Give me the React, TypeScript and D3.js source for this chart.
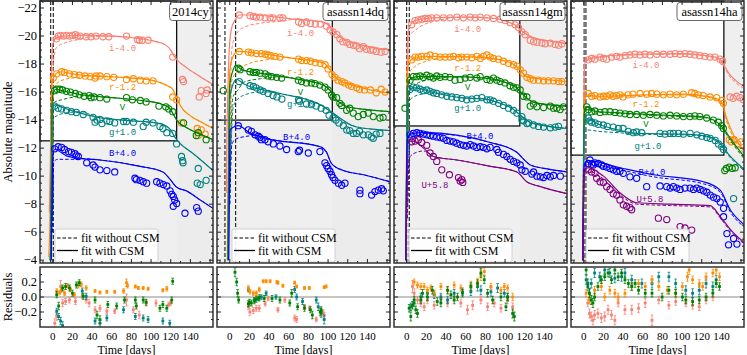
import React from 'react';
import * as d3 from 'd3';

type P = number[];

// ---------------- 2014cy ----------------
const cy_i_obs = [[3.9,-19.8],[5.5,-20.0],[8,-20.05],[11,-20.0],[14,-20.05],[17,-20.0],[20,-20.05],[23,-20.1],[25,-20.0],[28,-20.0],[34,-19.95],[39,-19.95],[44,-20.0],[51,-19.95],[57,-19.95],[75,-20.0],[86,-19.75],[88,-19.7],[91,-19.7],[97,-19.7],[122,-18.5],[132,-16.9],[133,-16.75],[149,-15.65],[151,-16.1],[156,-15.9],[157,-16.15]];
const cy_i_fit = [[-3.5,-7.4],[-2.5,-10.6],[-1.2,-18],[0,-19.4],[3,-19.85],[10,-20.0],[30,-20.05],[60,-20.0],[90,-19.8],[105,-19.6],[115,-19.35],[120,-19.0],[124,-18.5],[135,-17.8],[150,-17.1],[163,-16.55]];
const cy_i_nocsm = [[-0.3,-10],[0.5,-18.0],[2,-18.8],[4,-19.2],[12,-19.5],[26,-19.75],[40,-19.95]];
const cy_r_obs = [[0.5,-17.0],[4,-17.3],[9,-17.45],[12,-17.4],[17,-17.3],[22,-17.25],[27,-17.2],[33,-17.15],[38,-17.1],[43,-17.0],[44,-17.15],[48,-17.15],[55,-17.1],[62,-17.05],[75,-16.9],[82,-16.95],[89,-16.85],[95,-16.8],[102,-16.8],[122,-15.65],[126,-15.45],[131,-13.8],[147,-13.4],[148,-12.9],[155,-13.0],[151,-13.3]];
const cy_r_fit = [[-4,-4.2],[-3,-6.5],[-1.2,-16],[0,-16.9],[3,-17.3],[8,-17.45],[20,-17.3],[40,-17.15],[80,-17.0],[100,-16.85],[112,-16.6],[118,-16.4],[122,-16.2],[126,-15.6],[130,-15.0],[140,-14.3],[150,-13.9],[163,-13.4]];
const cy_r_nocsm = [[-0.3,-8],[0.5,-16.2],[4,-16.6],[12,-16.9],[25,-17.05],[40,-17.15]];
const cy_V_obs = [[2,-16.1],[4,-16.2],[7,-16.2],[10,-16.15],[14,-16.05],[18,-16.0],[23,-15.9],[27,-15.8],[32,-15.7],[37,-15.75],[39,-15.6],[42,-15.65],[48,-15.6],[55,-15.5],[75,-15.6],[81,-15.45],[89,-15.4],[95,-15.3],[108,-15.0],[115,-14.95],[118,-14.8],[122,-14.6],[133,-13.8],[146,-12.9],[148,-13.1],[156,-12.6]];
const cy_V_fit = [[-3,-4.0],[-2,-5.2],[-1,-14.5],[0,-15.8],[3,-16.2],[10,-16.1],[30,-15.8],[60,-15.6],[90,-15.4],[110,-15.15],[118,-14.9],[122,-14.5],[126,-14.0],[135,-13.5],[150,-13.0],[163,-12.6]];
const cy_V_nocsm = [[-0.3,-7],[0.5,-15.2],[4,-15.35],[9,-15.45],[22,-15.65],[35,-15.75]];
const cy_g_obs = [[2,-15.0],[5.5,-14.85],[9,-14.8],[14,-14.7],[19,-14.6],[24,-14.55],[31,-14.4],[41,-14.2],[45,-14.0],[48,-14.05],[55,-13.95],[43,-13.85],[50,-13.75],[58,-13.9],[63,-13.8],[72,-13.9],[75,-13.9],[82,-13.85],[92,-13.55],[95,-13.85],[102,-13.8],[109,-13.55],[112,-13.4],[116,-13.1],[122,-13.05],[126,-12.3],[131,-11.4],[132,-11.1],[132.5,-10.95],[148,-10.55],[147,-9.5],[150,-9.4],[156,-9.7]];
const cy_g_fit = [[-2,-4.0],[-1,-13.5],[0,-14.9],[3,-15.1],[10,-14.9],[25,-14.55],[50,-14.15],[80,-13.95],[105,-13.8],[115,-13.6],[120,-13.3],[124,-12.8],[130,-12.3],[143,-11.6],[163,-10.4]];
const cy_g_nocsm = [[-0.3,-6],[0.5,-14.1],[4,-14.3],[12.7,-14.5],[29,-14.6],[45,-14.2]];
const cy_B_obs = [[2,-11.95],[5.5,-12.1],[9,-12.05],[12,-11.9],[16,-11.75],[19,-11.7],[22.6,-11.6],[24,-11.45],[26,-11.4],[34.5,-10.95],[41,-10.8],[43,-10.65],[48,-10.45],[55,-10.4],[63,-10.3],[83.6,-9.85],[85,-9.75],[88.7,-9.7],[92,-9.6],[95.5,-9.5],[105.7,-9.6],[109,-9.5],[112.5,-9.4],[116,-9.3],[119.3,-8.95],[121,-8.7],[122.6,-8.55],[124,-8.3],[126,-8.05],[122.6,-7.85],[134.5,-7.35],[146.4,-7.75],[148,-7.5]];
const cy_B_fit = [[-1.5,-4],[-0.5,-10],[0.5,-11.7],[2,-11.9],[14,-11.45],[30,-11.25],[48,-11.15],[89,-10.7],[112,-10.3],[119,-9.8],[126,-9.2],[136,-8.95],[150,-8.3],[163,-7.7]];
const cy_B_nocsm = [[-0.3,-6],[1,-11.0],[5,-11.2],[22,-11.2],[30,-11.25]];

const cy_res_i = [[2,-0.35,0.06],[4,-0.26,0.05],[8,0.14,0.08],[10,-0.08,0.05],[13,-0.06,0.04],[17,-0.04,0.04],[23,-0.06,0.04],[30,0.01,0.03],[34,-0.04,0.04],[37,-0.08,0.05],[43,-0.17,0.04],[48,-0.15,0.04],[55,-0.19,0.03],[63,-0.19,0.03],[75,-0.04,0.08],[82,-0.17,0.04],[88,-0.24,0.05],[95,-0.08,0.04],[105,-0.08,0.04],[118,-0.10,0.03],[120,-0.08,0.03]];
const cy_res_r = [[4,0.08,0.03],[7,0.06,0.03],[9,0.1,0.03],[12,0.05,0.03],[15,0.15,0.03],[18,0.1,0.03],[22,0.03,0.03],[26,0.16,0.04],[29,0.17,0.03],[34,0.12,0.03],[43,0.08,0.02],[48,0.06,0.02],[55,0.07,0.02],[63,0.07,0.02],[72,0.08,0.03],[75,0.19,0.05],[76,0.15,0.03],[84,0.14,0.02],[87,0.12,0.02],[92,0.12,0.02],[97,0.11,0.02],[112,0.09,0.02],[116,0.11,0.03]];
const cy_res_V = [[4,0.03,0.04],[6,-0.12,0.05],[10,0.12,0.04],[13,0.14,0.04],[17,0.12,0.04],[20,0.05,0.04],[24,0.16,0.04],[27,0.19,0.04],[31,0.01,0.04],[43,-0.04,0.04],[45,-0.24,0.05],[48,-0.30,0.05],[56,-0.10,0.04],[65,-0.12,0.04],[73,-0.04,0.04],[84,-0.04,0.04],[85,-0.12,0.04],[92,-0.04,0.04],[95,-0.07,0.04],[109,-0.15,0.04],[112,-0.10,0.04],[116,-0.15,0.04],[121,-0.04,0.04],[122,0.21,0.04]];
const cy_res_g = [[4,-0.19,0.04],[6,-0.26,0.04],[8,-0.32,0.05],[10,-0.38,0.05],[30,0.08,0.04],[34,0.01,0.04],[43,-0.32,0.04],[48,-0.35,0.04],[55,-0.28,0.04],[72,-0.17,0.04],[84,-0.26,0.04],[92,-0.28,0.04],[97,-0.30,0.04],[112,-0.32,0.04],[119,-0.35,0.04]];

// ---------------- asassn14dq ----------------
const dq_i_obs = [[9.7,-21.5],[20.5,-21.45],[24,-21.4],[27,-21.35],[31,-21.35],[36,-21.3],[41,-21.3],[44,-21.3],[51,-21.3],[54,-21.3],[70,-21.0],[73,-20.9],[78,-21.0],[82,-20.9],[87,-20.85],[92,-20.85],[98.5,-20.7],[102,-20.45],[105,-20.3],[109,-20.1],[112,-19.8],[115,-19.6],[119,-19.55],[122,-19.4],[126,-19.35],[129,-19.3],[132,-19.1],[136,-19.25],[139,-19.05],[143,-19.0],[146,-19.0],[149,-18.9],[154,-18.85],[158,-18.9]];
const dq_i_fit = [[-3.6,-8.8],[-3.3,-11],[0,-19.6],[2,-20.6],[5,-21.1],[10,-21.5],[24,-21.5],[65,-21.2],[95,-21.0],[100,-20.8],[105,-20.4],[115,-19.8],[132,-19.4],[163,-19.0]];
const dq_i_nocsm = [[0,-12],[2,-19.0],[5,-19.9],[13.5,-20.6],[30,-20.9],[57,-21.1],[65,-21.2]];
const dq_r_obs = [[9.7,-18.9],[18.9,-18.85],[22,-18.8],[27,-18.75],[32,-18.75],[36,-18.7],[39,-18.65],[42,-18.6],[46,-18.55],[51,-18.5],[70,-18.35],[73,-18.25],[78,-18.25],[82,-18.2],[87,-18.1],[92,-18.05],[97,-17.95],[100,-17.65],[104,-17.25],[107,-17.05],[110,-16.85],[114,-16.75],[117,-16.65],[121,-16.5],[124,-16.4],[129,-16.3],[132,-16.2],[137,-16.15],[143,-16.15],[149,-15.95],[154,-16.2],[158,-16.0]];
const dq_r_fit = [[-2.5,-4],[0,-17.5],[3,-18.5],[8,-18.9],[25,-18.8],[65,-18.4],[95,-18.1],[102,-17.6],[110,-16.9],[125,-16.5],[140,-16.2],[163,-15.9]];
const dq_r_nocsm = [[0,-10],[2,-16.8],[6.6,-17.4],[20,-18.05],[37,-18.3],[60,-18.45]];
const dq_V_obs = [[-6.6,-16.1],[8.9,-17.7],[10.6,-17.6],[20.5,-17.45],[24,-17.4],[27,-17.4],[31,-17.35],[36,-17.3],[39,-17.15],[42.6,-17.1],[47.7,-17.05],[52.8,-17.0],[69.7,-16.85],[73,-16.75],[78,-16.65],[83,-16.65],[86.7,-16.6],[91.7,-16.5],[96.8,-16.35],[100,-16.15],[103.5,-15.8],[105,-15.65],[108.7,-15.6],[112,-15.2],[113.8,-15.05],[118.9,-14.7],[122,-14.85],[125.6,-14.5],[130.7,-14.25],[135.8,-14.4],[140.9,-14.5],[146,-14.25],[152.8,-14.15],[156,-14.2]];
const dq_V_fit = [[-2,-4],[0,-16.5],[3,-17.5],[6,-17.9],[12,-17.6],[35,-17.3],[70,-16.9],[95,-16.5],[101,-16.2],[108,-15.5],[120,-14.95],[140,-14.75],[163,-14.6]];
const dq_V_nocsm = [[0,-9],[3,-15.6],[8.9,-16.2],[14,-16.7],[31,-16.95],[55,-17.1]];
const dq_g_obs = [[9.7,-16.75],[20.5,-16.45],[24,-16.4],[27,-16.3],[31,-16.15],[34,-16.05],[39,-15.9],[44,-15.75],[48,-15.65],[53,-15.5],[70,-15.45],[71,-15.35],[78,-15.15],[83,-15.1],[88,-15.0],[93,-14.85],[98,-14.7],[101,-14.35],[105,-14.15],[108,-14.0],[111,-13.8],[115.5,-13.6],[119,-13.3],[122,-13.25],[125.7,-13.05],[129,-13.05],[132,-13.2],[135.8,-12.95],[140.9,-12.95],[144,-12.8],[146,-12.7],[149,-13.0],[152.8,-13.05]];
const dq_g_fit = [[-1.5,-4],[0,-15.5],[3,-16.5],[7,-16.9],[14,-16.6],[48,-15.95],[92,-15.1],[105,-14.5],[115,-14.0],[125,-13.6],[145,-13.35],[163,-13.25]];
const dq_g_nocsm = [[0,-8],[3,-14.7],[5,-15.2],[15,-15.8],[30,-16.0],[45,-16.0]];
const dq_B_obs = [[8.7,-13.6],[18.9,-13.3],[22,-13.2],[25.7,-12.95],[29,-12.85],[30.7,-12.75],[32,-12.6],[35.8,-12.6],[39,-12.45],[44.3,-12.3],[51,-12.15],[57.8,-11.9],[69.7,-11.75],[71,-11.85],[79.9,-11.65],[91.7,-11.75],[96.8,-10.95],[98.5,-10.75],[100,-10.55],[101.9,-10.35],[103.5,-10.1],[105,-9.9],[107,-9.7],[110.4,-9.5],[113.8,-9.35],[117.2,-9.5],[132.4,-9.0],[132.4,-8.75],[144.3,-8.65],[147.7,-8.9],[151.1,-9.0],[154.5,-9.1],[156.2,-8.95]];
const dq_B_fit = [[-1,-4],[0.2,-13.3],[4,-13.5],[8.7,-13.6],[20,-13.1],[37,-12.7],[92,-12.1],[98.5,-11.7],[103.5,-10.9],[115.5,-10.4],[136,-10.1],[163,-9.6]];
const dq_B_nocsm = [[0,-8],[2,-12.2],[5,-12.6],[13.5,-12.8],[27,-12.9],[37,-12.7]];

const dq_res_i = [[18.9,-0.13,0.04],[20.5,-0.2,0.05],[24,-0.18,0.04],[27,-0.15,0.04],[30,-0.15,0.04],[36,-0.09,0.03],[39,-0.02,0.03],[49,-0.17,0.03],[56,-0.04,0.03],[66,-0.28,0.04],[68,-0.3,0.04],[76,-0.13,0.03],[81,-0.15,0.03],[88,-0.3,0.03],[95,-0.21,0.04],[96,-0.25,0.04]];
const dq_res_r = [[18.9,0.12,0.03],[20.5,0.07,0.03],[24,0.05,0.03],[27,0.05,0.03],[30,0.1,0.03],[34,0.21,0.02],[37,0.21,0.02],[41,0.21,0.02],[48,0.2,0.02],[49,0.19,0.02],[54,0.15,0.02],[66,0.19,0.02],[68,0.14,0.02],[76,0.12,0.02],[81,0.12,0.02],[96,0.13,0.02],[98,0.14,0.02]];
const dq_res_V = [[5.3,0.33,0.06],[7,0.2,0.05],[8,0.05,0.05],[9,-0.04,0.04],[18.9,-0.09,0.04],[20,-0.07,0.04],[22,-0.08,0.04],[25,-0.05,0.04],[27,-0.03,0.04],[30,-0.01,0.04],[35,-0.02,0.04],[43,-0.02,0.04],[51,-0.04,0.04],[61,-0.08,0.04],[63,0.05,0.05],[69,-0.13,0.04],[76,-0.15,0.04],[82,-0.17,0.04],[84,-0.24,0.05],[92,-0.2,0.05],[93,-0.18,0.05]];
const dq_res_g = [[18.9,0.1,0.03],[25,-0.04,0.03],[29,-0.02,0.03],[32,0.0,0.03],[37,0.05,0.03],[47,0.0,0.03],[66,0.1,0.04],[68,0.0,0.04],[74,-0.06,0.04],[88,-0.04,0.04],[90,-0.13,0.05],[93,-0.21,0.06],[96,-0.3,0.06]];

// ---------------- asassn14gm ----------------
const gm_i_obs = [[5,-20.8],[8.4,-21.1],[11.8,-21.15],[15.2,-21.2],[18.6,-21.25],[22,-21.25],[25.4,-21.3],[30.5,-21.3],[37.3,-21.3],[44,-21.3],[50.9,-21.35],[57.7,-21.3],[64.5,-21.35],[69.6,-21.3],[74.7,-21.35],[81.5,-21.3],[88.2,-21.25],[95,-21.2],[100.1,-21.1],[105.2,-20.95],[110.3,-20.8],[113.7,-20.6],[117.1,-20.3],[120.5,-20.1],[125.6,-19.7],[129,-19.6],[132.4,-19.55],[137.5,-19.5],[140.9,-19.45],[146,-19.5],[151,-19.4],[154.4,-19.35],[157.8,-19.45]];
const gm_i_fit = [[-1,-4],[0.5,-19.5],[2,-20.5],[8,-21.1],[25,-21.3],[60,-21.35],[90,-21.25],[103,-21.0],[110,-20.8],[118,-20.3],[128,-19.9],[145,-19.65],[163,-19.45]];
const gm_i_nocsm = [[0.5,-12],[1.7,-19.9],[8.4,-20.4],[18.6,-20.85],[32,-21.1],[45,-21.3]];
const gm_r_obs = [[5,-18.3],[8.4,-18.5],[11.8,-18.5],[15.2,-18.55],[20.3,-18.55],[23.7,-18.65],[28.8,-18.55],[33.9,-18.5],[39,-18.5],[44,-18.5],[47.5,-18.55],[52.6,-18.45],[56,-18.5],[61,-18.5],[66.2,-18.45],[71.3,-18.55],[74.7,-18.4],[78,-18.55],[81.5,-18.65],[84.8,-18.5],[88.2,-18.4],[93.3,-18.35],[98.4,-18.2],[103.5,-18.05],[108.6,-17.95],[112,-17.85],[115.4,-17.6],[118.8,-17.35],[122.2,-17.05],[125.6,-16.95],[129,-16.85],[134,-16.85],[139.2,-16.8],[144,-16.8],[149.3,-16.8],[154.4,-16.75],[157.8,-16.75]];
const gm_r_fit = [[-1,-4],[0.5,-17.5],[3,-18.2],[10,-18.5],[30,-18.55],[70,-18.5],[95,-18.3],[108,-18.0],[115,-17.6],[122,-17.1],[135,-16.95],[163,-16.75]];
const gm_r_nocsm = [[0.5,-10],[2,-17.3],[8,-17.8],[20,-18.2],[35,-18.45],[50,-18.53]];
const gm_V_obs = [[-1.8,-14.85],[3.4,-16.85],[6.7,-17.1],[10,-17.1],[13.5,-17.15],[16.9,-17.05],[20.3,-17.2],[23.7,-17.1],[27,-17.0],[30.5,-17.15],[33.9,-17.05],[39,-17.1],[44,-17.05],[49,-16.85],[54.3,-16.9],[59.4,-17.0],[64.5,-17.05],[71.3,-17.0],[74.7,-17.1],[81.5,-16.9],[84.8,-16.85],[88.2,-17.0],[91.6,-16.85],[95,-16.75],[100,-16.65],[105,-16.45],[108.6,-16.35],[112,-16.3],[115.4,-16.15],[118.8,-15.7],[122.2,-15.65],[125.6,-15.0],[129,-15.15],[132.4,-14.95],[139.2,-14.9],[146,-15.0],[149.3,-14.85],[152.7,-14.85],[156,-14.75],[159.5,-14.95]];
const gm_V_fit = [[-1,-4],[0.5,-16.2],[3,-16.9],[10,-17.1],[40,-17.1],[80,-17.0],[100,-16.7],[112,-16.3],[120,-15.7],[130,-15.25],[163,-15.0]];
const gm_V_nocsm = [[0.5,-9],[2,-15.9],[8,-16.5],[20,-16.85],[35,-17.0],[45,-17.1]];
const gm_g_obs = [[3.4,-16.2],[6.7,-16.35],[10,-16.3],[13.5,-16.2],[16.9,-16.1],[20.3,-16.15],[23.7,-16.05],[27,-15.95],[30.5,-15.9],[35.6,-15.8],[40.7,-15.7],[45.8,-15.65],[50.9,-15.6],[56,-15.55],[61,-15.45],[66.2,-15.5],[71.3,-15.55],[76.4,-15.6],[81.5,-15.45],[84.8,-15.45],[88.2,-15.35],[93.3,-15.2],[98.4,-15.05],[103.5,-14.85],[108.6,-14.7],[112,-14.5],[117.1,-14.25],[118.8,-13.95],[122.2,-13.75],[117.1,-14.0],[124,-13.8],[129,-13.65],[134,-13.55],[139.2,-13.5],[146,-13.45],[151,-13.5],[154.4,-13.55]];
const gm_g_fit = [[-1,-4],[0.5,-15.5],[3,-16.2],[8,-16.3],[28,-15.95],[55,-15.6],[80,-15.5],[95,-15.2],[108,-14.8],[118,-14.2],[125,-13.85],[140,-13.6],[163,-13.4]];
const gm_g_nocsm = [[0.5,-8],[2,-15.3],[8,-15.7],[20,-15.9],[30,-15.93]];
const gm_B_obs = [[3.4,-12.95],[6.7,-13.05],[10.2,-13.1],[13.5,-13.05],[16.9,-13.0],[20.3,-12.95],[23.7,-12.9],[27,-12.85],[30.5,-12.8],[33.9,-12.75],[37.3,-12.7],[40.7,-12.55],[44,-12.5],[47.5,-12.45],[50.9,-12.35],[54.3,-12.25],[57.7,-12.2],[61,-12.15],[64.5,-12.25],[67.9,-12.15],[71.3,-12.05],[74.7,-12.1],[78,-12.05],[81.5,-11.95],[84.8,-12.05],[91.6,-11.9],[93.3,-11.7],[98.4,-11.55],[101.8,-11.4],[105.2,-11.2],[108.6,-11.05],[112,-10.95],[115.4,-10.8],[117.1,-10.45],[120.5,-10.35],[127.3,-10.15],[129,-10.3],[132.4,-10.0],[135.8,-9.95],[139.2,-9.9],[142.6,-10.05],[146,-9.95],[149.3,-10.05],[156.2,-10.0]];
const gm_B_fit = [[-1,-4],[0.5,-12.5],[3.4,-13.0],[17,-13.1],[85,-12.4],[112,-11.7],[119,-11.2],[125.6,-10.8],[140,-10.55],[163,-10.3]];
const gm_B_nocsm = [[0.5,-7],[3.4,-12.6],[10,-12.8],[20,-13.05]];
const gm_U_obs = [[5,-12.45],[8.4,-12.5],[11.8,-12.6],[15.2,-12.4],[20.3,-12.2],[23.7,-11.65],[27,-11.4],[30.5,-11.05],[35.6,-10.45],[43.4,-10.1],[52.6,-9.9],[54.3,-9.65],[56,-9.75],[57,-9.55]];
const gm_U_fit = [[-1,-4],[1.7,-12.5],[6.7,-12.5],[17,-12.0],[27,-11.4],[51,-11.15],[85,-10.7],[112,-10.3],[122,-9.6],[136,-9.25],[163,-8.75]];
const gm_U_nocsm = [[0.5,-7],[3.4,-11.4],[10,-11.7],[17,-11.8],[25,-11.5]];

const gm_res_i = [[5.8,0.14,0.08],[7.5,0.05,0.06],[10.9,-0.04,0.05],[14.3,-0.08,0.05],[17.7,-0.13,0.05],[21,-0.04,0.05],[27.9,-0.11,0.05],[34.7,-0.02,0.05],[41.5,-0.08,0.05],[48.2,0.0,0.05],[55,-0.08,0.05],[61.8,-0.17,0.06],[67,-0.11,0.06],[75.4,-0.04,0.05],[82.2,-0.13,0.05],[89,-0.08,0.05],[95.8,-0.15,0.05],[102.6,-0.04,0.05],[107.7,-0.13,0.05]];
const gm_res_r = [[7.5,0.2,0.04],[10.9,0.16,0.04],[14.3,0.14,0.04],[17.7,0.14,0.04],[21,0.09,0.04],[24.5,0.12,0.04],[27.9,0.05,0.04],[34.7,0.14,0.04],[41.5,0.09,0.04],[48.2,0.16,0.04],[55,0.12,0.04],[65.2,0.16,0.05],[72,0.2,0.05],[75.4,0.29,0.07],[78.8,0.34,0.05],[85.6,0.14,0.04],[95.8,0.09,0.04],[99.2,0.14,0.04],[102.6,0.12,0.04],[107.7,0.0,0.05]];
const gm_res_V = [[2.4,-0.15,0.05],[4.1,-0.26,0.06],[5.8,-0.11,0.05],[7.5,-0.04,0.05],[9.2,-0.17,0.05],[10.9,-0.22,0.05],[14.3,-0.04,0.05],[16,0.05,0.05],[21,0.0,0.05],[26,0.09,0.05],[31,-0.06,0.05],[34.7,-0.08,0.05],[41.5,0.09,0.05],[44.9,0.03,0.05],[48.2,-0.04,0.05],[51.6,0.0,0.05],[56.7,0.05,0.05],[65.2,0.14,0.05],[72,0.18,0.05],[75.4,0.32,0.06],[78.8,0.23,0.05],[82.2,0.05,0.05],[87.3,-0.04,0.05],[95.8,0.0,0.05],[100.9,-0.13,0.05],[102.6,0.0,0.05],[107.7,-0.22,0.06],[109.4,-0.26,0.06]];
const gm_res_g = [[4.1,-0.13,0.05],[7.5,-0.08,0.05],[14.3,0.0,0.05],[21,0.05,0.05],[27.9,0.03,0.05],[34.7,0.0,0.05],[41.5,-0.04,0.05],[48.2,0.05,0.05],[56.7,0.07,0.05],[65.2,0.07,0.05],[72,0.14,0.06],[75.4,0.09,0.06],[85.6,0.07,0.06],[92.4,0.12,0.06],[99.2,0.05,0.05],[102.6,0.0,0.05]];

// ---------------- asassn14ha ----------------
const ha_i_obs = [[4.6,-18.3],[8,-18.4],[11.4,-18.35],[16.5,-18.5],[19.9,-18.4],[23.3,-18.35],[28.3,-18.5],[33.4,-18.55],[36.8,-18.5],[42,-18.6],[47,-18.65],[52,-18.7],[57.2,-18.65],[62.3,-18.7],[67.4,-18.65],[74.2,-18.7],[81,-18.7],[87.8,-18.7],[92.8,-18.75],[98,-18.7],[103,-18.75],[108,-18.7],[113,-18.65],[118,-18.6],[123.3,-18.55],[128.4,-18.5],[133.5,-18.5],[138.6,-18.35],[141.3,-18.2],[148.8,-15.65],[152,-15.55],[155.6,-15.7],[159,-15.6],[162.4,-15.45]];
const ha_i_fit = [[-1,-4],[0.5,-17.5],[2,-18.3],[15,-18.5],[50,-18.7],[100,-18.75],[125,-18.6],[138,-18.4],[142,-18.0],[148,-17.3],[155,-16.8],[163,-16.4]];
const ha_i_nocsm = [[-1,-4],[0.5,-17.3],[2,-18.2],[15,-18.45],[50,-18.65],[100,-18.7],[125,-18.55],[138,-18.3],[142,-17.9],[148,-17.15],[155,-16.65],[163,-16.25]];
const ha_r_obs = [[4.6,-15.9],[8,-15.7],[11.4,-15.75],[16.5,-15.65],[19.9,-15.7],[23.3,-15.7],[26.7,-15.8],[30,-15.7],[33.4,-15.75],[36.8,-15.8],[40,-15.65],[45,-15.8],[50,-15.85],[57.2,-15.9],[64,-15.85],[69,-15.9],[74.2,-15.85],[81,-15.8],[87.8,-15.85],[94.5,-15.8],[101.3,-15.85],[109.8,-15.95],[113,-15.9],[116.5,-15.8],[121.5,-15.75],[128.4,-15.65],[135.2,-15.6],[140.3,-15.4],[142,-15.2],[148,-12.6],[150,-12.45],[153,-12.6],[156.5,-12.3],[160,-12.45]];
const ha_r_fit = [[-1,-4],[0.5,-15.3],[3,-15.8],[15,-15.7],[60,-15.8],[100,-15.85],[125,-15.7],[137,-15.45],[141,-15.2],[145,-14.2],[150,-13.3],[155,-12.6],[163,-11.8]];
const ha_r_nocsm = [[-1,-4],[0.5,-15.1],[3,-15.7],[15,-15.65],[60,-15.75],[100,-15.8],[125,-15.65],[137,-15.35],[141,-15.05],[145,-14.0],[150,-13.1],[155,-12.4],[163,-11.6]];
const ha_V_obs = [[3,-14.95],[4.6,-14.75],[8,-14.6],[11.4,-14.65],[16.5,-14.55],[21.6,-14.6],[26.7,-14.6],[31.8,-14.55],[36.8,-14.5],[42,-14.45],[47,-14.4],[53.8,-14.4],[60.6,-14.35],[67.4,-14.4],[74.2,-14.35],[81,-14.3],[87.8,-14.35],[94.5,-14.3],[101.3,-14.25],[108,-14.25],[113,-14.3],[118,-14.25],[125,-14.15],[131.8,-14.0],[136.9,-13.85],[140.3,-13.6],[142,-13.4],[143.4,-10.4],[145,-10.55],[148,-10.65],[151,-10.55],[154,-10.6]];
const ha_V_fit = [[-1,-4],[0.5,-14.5],[3,-14.95],[10,-14.65],[40,-14.5],[80,-14.35],[120,-14.25],[132,-14.0],[138,-13.7],[142,-13.4],[150,-12.6],[163,-11.4]];
const ha_V_nocsm = [[-1,-4],[0.5,-14.3],[3,-14.8],[10,-14.6],[40,-14.45],[80,-14.3],[120,-14.2],[132,-13.95],[138,-13.6],[142,-13.3],[150,-12.45],[163,-11.25]];
const ha_g_obs = [[4.6,-14.15],[6.3,-13.95],[8,-13.85],[11.4,-13.8],[14.8,-13.7],[19.9,-13.65],[24,-13.55],[30,-13.5],[35.2,-13.4],[40,-13.4],[45.3,-13.2],[50.4,-13.1],[53.8,-13.15],[58.9,-13.1],[77.6,-13.05],[82.7,-13.0],[87.8,-13.05],[91.2,-13.05],[96.2,-13.05],[101.3,-13.0],[108.2,-13.05],[115,-12.95],[120.1,-12.85],[125.2,-12.75],[128.6,-12.7],[133.7,-12.55],[137,-12.3],[140.3,-12.1],[142.2,-11.9],[152.4,-8.4]];
const ha_g_fit = [[-1,-4],[0.5,-13.6],[3,-14.1],[15,-13.7],[35,-13.3],[55,-13.05],[100,-13.0],[125,-12.85],[138,-12.4],[148,-11.5],[163,-10.5]];
const ha_g_nocsm = [[-1,-4],[0.5,-13.0],[3,-13.3],[15,-13.2],[35,-13.1],[55,-13.0],[100,-12.95],[125,-12.8],[138,-12.3],[148,-11.4],[163,-10.4]];
const ha_B_obs = [[4.6,-10.9],[6.3,-11.15],[8,-10.85],[9.7,-10.8],[11.4,-10.95],[14.8,-10.9],[18.2,-10.8],[19.9,-10.7],[23.3,-10.65],[26.7,-10.55],[30,-10.45],[33.4,-10.35],[36.8,-10.35],[40.2,-10.2],[47,-9.95],[53.8,-9.85],[64,-9.25],[77.6,-9.3],[84.4,-9.25],[87.8,-9.15],[91.2,-9.25],[94.6,-9.15],[98,-9.05],[103,-9.15],[108.2,-9.15],[111.6,-9.05],[115,-9.15],[118.4,-9.05],[121.8,-8.95],[125.2,-8.85],[128.6,-8.65],[132,-8.5],[135.4,-8.4],[138.8,-8.15],[142.2,-7.7],[142.2,-7.1],[145.6,-5.9],[152.4,-5.55],[147.3,-5.1],[155.8,-5.15]];
const ha_B_fit = [[-1,-4],[0.5,-10.8],[4.6,-11.1],[36.8,-10.6],[71,-10.1],[121.8,-9.6],[138.8,-9.0],[149,-7.6],[166,-6.4]];
const ha_B_nocsm = [[-1,-4],[0.5,-10.6],[4.6,-10.85],[36.8,-10.45],[71,-9.95],[121.8,-9.45],[138.8,-8.85],[149,-7.45],[166,-6.25]];
const ha_U_obs = [[4.6,-10.45],[8,-10.3],[11.4,-10.2],[13.1,-9.85],[16.5,-9.6],[19.9,-9.55],[23.3,-9.25],[26.7,-9.05],[30,-8.75],[33.5,-8.65],[36.8,-8.3],[40.2,-7.95],[43.6,-7.85],[47,-7.75],[48.7,-7.6],[75.9,-7.0],[84.4,-6.9],[98,-6.4],[103,-6.3],[109.8,-6.15]];
const ha_U_fit = [[-1,-4],[0.5,-10.3],[4.6,-10.6],[20,-10.0],[37,-8.8],[54,-8.1],[88,-8.0],[128.6,-7.9],[139,-7.1],[149,-6.2],[166,-5.1]];
const ha_U_nocsm = [[-1,-4],[0.5,-10.0],[4.6,-10.35],[20,-9.8],[37,-8.65],[54,-8.0],[88,-7.9],[128.6,-7.8],[139,-7.0],[149,-6.1],[166,-5.0]];

const ha_res_i = [[4.1,-0.08,0.05],[5.8,-0.22,0.06],[7.6,-0.26,0.06],[9.3,-0.31,0.06],[11,-0.24,0.06],[14.4,-0.22,0.06],[17.9,-0.28,0.06],[21.3,-0.26,0.06],[24.7,-0.17,0.06],[28.2,-0.24,0.06],[31.6,-0.31,0.06],[35,-0.08,0.05],[41.9,-0.17,0.06],[48.8,-0.17,0.06],[55.7,-0.15,0.06],[62.5,-0.08,0.06],[69.4,-0.31,0.07],[76.3,-0.04,0.05],[86.6,-0.11,0.05],[93.5,-0.06,0.05],[103.8,-0.08,0.05],[110.7,-0.11,0.05],[117.5,-0.13,0.05],[124.4,-0.04,0.05],[131.3,0.0,0.05]];
const ha_res_r = [[2.4,0.05,0.05],[5.8,-0.04,0.05],[11,0.09,0.05],[17.9,0.14,0.05],[21.3,0.0,0.05],[26.5,0.09,0.05],[31.6,0.05,0.05],[35,0.0,0.05],[41.9,0.05,0.05],[48.8,0.14,0.05],[55.7,0.18,0.05],[62.5,0.14,0.05],[69.4,0.23,0.05],[76.3,0.14,0.05],[84.9,0.09,0.05],[93.5,0.05,0.05],[100.3,0.14,0.05],[105.5,0.27,0.06],[107.2,0.36,0.06],[110.7,0.23,0.05],[117.5,0.18,0.05],[121,0.14,0.05],[124.4,0.27,0.05],[131.3,0.32,0.05],[134.7,0.36,0.05],[138.1,0.27,0.05]];
const ha_res_V = [[2.4,0.36,0.06],[4.1,0.18,0.06],[5.8,0.05,0.06],[7.6,-0.04,0.06],[9.3,-0.08,0.06],[11,0.0,0.05],[14.4,0.14,0.05],[17.9,0.23,0.05],[21.3,0.27,0.05],[24.7,0.32,0.05],[28.2,0.23,0.05],[31.6,0.36,0.05],[35,0.27,0.05],[38.5,0.32,0.05],[41.9,0.23,0.05],[45.4,0.18,0.05],[48.8,0.14,0.05],[52.2,0.18,0.05],[55.7,0.09,0.05],[62.5,0.05,0.05],[69.4,0.05,0.05],[79.7,0.0,0.05],[86.6,0.09,0.05],[93.5,0.05,0.05],[100.3,0.0,0.05],[103.8,-0.04,0.05],[110.7,-0.06,0.05],[117.5,-0.04,0.05],[124.4,0.0,0.05],[131.3,0.05,0.05],[134.7,0.18,0.05],[138.1,0.14,0.05]];
const ha_res_g = [[2.4,0.23,0.06],[4.1,0.14,0.06],[5.8,0.05,0.06],[7.6,0.18,0.06],[11,0.32,0.06],[16.2,0.27,0.06],[21.3,0.36,0.06],[26.5,0.32,0.06],[31.6,0.25,0.06],[38.5,0.27,0.06],[41.9,0.32,0.06],[48.8,0.23,0.06],[59.1,0.18,0.06],[69.4,0.18,0.06],[76.3,0.27,0.06],[86.6,0.27,0.06],[93.5,0.18,0.06],[103.8,0.09,0.06],[110.7,0.05,0.06],[117.5,0.09,0.06],[124.4,0.18,0.06],[131.3,0.14,0.06],[134.7,0.23,0.06]];

// ---------------- labels & axis values ----------------
const panelNames = ['2014cy', 'asassn14dq', 'asassn14gm', 'asassn14ha'];
const bandLabels = { i: 'i-4.0', r: 'r-1.2', V: 'V', g: 'g+1.0', B: 'B+4.0', U: 'U+5.8' };
const magTicks = [-22, -20, -18, -16, -14, -12, -10, -8, -6, -4];
const resTicks = [0.2, 0.0, -0.2];
const timeTicks = [0, 20, 40, 60, 80, 100, 120, 140];

const COL: Record<string, string> = { i: '#fa8072', r: '#ff8c00', V: '#008000', g: '#008080', B: '#0000ff', U: '#800080' };

const PANEL_W = 173;
const PANEL_LEFTS = [40, 217, 394, 571];
const TOP_RANGE = [1, 263];
const RES_RANGE = [267, 327];
const XDOM = [-13, 163];
const MAGDOM = [-22.5, -3.8];
const RESDOM = [0.4, -0.4];
const FS = 12.5;
const FS_X = 11;
const FS_LEG = 12;

type Band = { key: string; obs: P[]; fit: P[]; nocsm: P[]; lab: number[] };
type Panel = { name: string; bands: Band[]; res: { key: string; d: P[] }[]; boxEnd: number; boxMag: number; epochs: number[]; epochGray?: boolean; fullNocsm?: boolean };

const panels: Panel[] = [
  {
    name: panelNames[0], boxEnd: 126, boxMag: -12.52, epochs: [-2.1, 0.5],
    bands: [
      { key: 'i', obs: cy_i_obs, fit: cy_i_fit, nocsm: cy_i_nocsm, lab: [71, -19.15] },
      { key: 'r', obs: cy_r_obs, fit: cy_r_fit, nocsm: cy_r_nocsm, lab: [71, -16.36] },
      { key: 'V', obs: cy_V_obs, fit: cy_V_fit, nocsm: cy_V_nocsm, lab: [71, -14.93] },
      { key: 'g', obs: cy_g_obs, fit: cy_g_fit, nocsm: cy_g_nocsm, lab: [71, -13.15] },
      { key: 'B', obs: cy_B_obs, fit: cy_B_fit, nocsm: cy_B_nocsm, lab: [71, -11.65] },
    ],
    res: [{ key: 'i', d: cy_res_i }, { key: 'g', d: cy_res_g }, { key: 'r', d: cy_res_r }, { key: 'V', d: cy_res_V }],
  },
  {
    name: panelNames[1], boxEnd: 104.3, boxMag: -14.0, epochs: [-4.9, 6],
    bands: [
      { key: 'i', obs: dq_i_obs, fit: dq_i_fit, nocsm: dq_i_nocsm, lab: [72, -20.22] },
      { key: 'r', obs: dq_r_obs, fit: dq_r_fit, nocsm: dq_r_nocsm, lab: [72, -17.43] },
      { key: 'V', obs: dq_V_obs, fit: dq_V_fit, nocsm: dq_V_nocsm, lab: [72, -16.0] },
      { key: 'g', obs: dq_g_obs, fit: dq_g_fit, nocsm: dq_g_nocsm, lab: [72, -15.15] },
      { key: 'B', obs: dq_B_obs, fit: dq_B_fit, nocsm: dq_B_nocsm, lab: [68, -12.79] },
    ],
    res: [{ key: 'i', d: dq_res_i }, { key: 'g', d: dq_res_g }, { key: 'r', d: dq_res_r }, { key: 'V', d: dq_res_V }],
  },
  {
    name: panelNames[2], boxEnd: 115, boxMag: -13.58, epochs: [-0.1, 2.5],
    bands: [
      { key: 'i', obs: gm_i_obs, fit: gm_i_fit, nocsm: gm_i_nocsm, lab: [62, -20.5] },
      { key: 'r', obs: gm_r_obs, fit: gm_r_fit, nocsm: gm_r_nocsm, lab: [62, -17.72] },
      { key: 'V', obs: gm_V_obs, fit: gm_V_fit, nocsm: gm_V_nocsm, lab: [62, -16.36] },
      { key: 'g', obs: gm_g_obs, fit: gm_g_fit, nocsm: gm_g_nocsm, lab: [62, -14.86] },
      { key: 'B', obs: gm_B_obs, fit: gm_B_fit, nocsm: gm_B_nocsm, lab: [74.5, -12.86] },
      { key: 'U', obs: gm_U_obs, fit: gm_U_fit, nocsm: gm_U_nocsm, lab: [28.7, -9.37] },
    ],
    res: [{ key: 'i', d: gm_res_i }, { key: 'g', d: gm_res_g }, { key: 'r', d: gm_res_r }, { key: 'V', d: gm_res_V }],
  },
  {
    name: panelNames[3], boxEnd: 142.5, boxMag: -11.5, epochs: [1.3], epochGray: true, fullNocsm: true,
    bands: [
      { key: 'i', obs: ha_i_obs, fit: ha_i_fit, nocsm: ha_i_nocsm, lab: [63.3, -17.93] },
      { key: 'r', obs: ha_r_obs, fit: ha_r_fit, nocsm: ha_r_nocsm, lab: [63.3, -15.15] },
      { key: 'V', obs: ha_V_obs, fit: ha_V_fit, nocsm: ha_V_nocsm, lab: [63.3, -13.72] },
      { key: 'g', obs: ha_g_obs, fit: ha_g_fit, nocsm: ha_g_nocsm, lab: [65.3, -12.15] },
      { key: 'B', obs: ha_B_obs, fit: ha_B_fit, nocsm: ha_B_nocsm, lab: [69.4, -10.3] },
      { key: 'U', obs: ha_U_obs, fit: ha_U_fit, nocsm: ha_U_nocsm, lab: [67.3, -8.37] },
    ],
    res: [{ key: 'i', d: ha_res_i }, { key: 'g', d: ha_res_g }, { key: 'r', d: ha_res_r }, { key: 'V', d: ha_res_V }],
  },
];

const yTop = d3.scaleLinear().domain(MAGDOM).range(TOP_RANGE);
const yRes = d3.scaleLinear().domain(RESDOM).range(RES_RANGE);
const fmtMinus = (v: number, digits: number) => {
  const s = Math.abs(v).toFixed(digits);
  return v < -1e-9 ? '\u2212' + s : s;
};

function PanelView({ p, idx }: { p: Panel; idx: number }) {
  const left = PANEL_LEFTS[idx];
  const right = left + PANEL_W;
  const x = d3.scaleLinear().domain(XDOM).range([left, right]);
  const line = d3.line<P>().x(d => x(d[0])).y(d => yTop(d[1])).curve(d3.curveMonotoneX);
  const [t0, t1] = TOP_RANGE;
  const [r0, r1] = RES_RANGE;
  const bx = x(p.boxEnd);
  const by = yTop(p.boxMag);

  const xMaj = d3.range(0, 161, 20);
  const xMin = d3.range(-10, 163, 10).filter(v => v % 20 !== 0);
  const yMaj: number[] = [];
  const yMin: number[] = [];
  for (let k = -45; k <= -8; k++) {
    if (k % 4 === 0) yMaj.push(k / 2); else yMin.push(k / 2);
  }
  const rMaj = [-0.2, 0, 0.2];
  const rMin = [-0.3, -0.1, 0.1, 0.3];

  const dashed = (b: Band) => {
    if (p.fullNocsm) return b.nocsm;
    const last = b.nocsm[b.nocsm.length - 1][0];
    return b.nocsm.concat(b.fit.filter(d => d[0] > last));
  };

  const titleW = p.name.length * 5.9 + 6;
  const tk = '#222';

  return (
    <g>
      <defs>
        <clipPath id={`ct${idx}`}><rect x={left} y={t0} width={PANEL_W} height={t1 - t0} /></clipPath>
        <clipPath id={`cr${idx}`}><rect x={left} y={r0} width={PANEL_W} height={r1 - r0} /></clipPath>
      </defs>
      {/* top panel background */}
      <rect x={left} y={t0} width={PANEL_W} height={t1 - t0} fill="#efefef" />
      <rect x={bx} y={by} width={right - bx} height={t1 - by} fill="#ececec" />
      <rect x={left} y={t0} width={bx - left} height={by - t0} fill="#fff" stroke="#111" strokeWidth={1.3} />
      <g clipPath={`url(#ct${idx})`}>
        {p.epochs.map((e, i) => (
          <line key={i} x1={x(e)} x2={x(e)} y1={t0} y2={t1}
            stroke={p.epochGray ? '#777' : '#000'} strokeWidth={p.epochGray ? 3.5 : 1}
            strokeDasharray={p.epochGray ? '5,2' : '4,2'} />
        ))}
        {p.bands.map(b => (
          <g key={b.key}>
            <path d={line(dashed(b)) || ''} fill="none" stroke={COL[b.key]} strokeWidth={1} strokeDasharray="3.5,2" />
            <path d={line(b.fit) || ''} fill="none" stroke={COL[b.key]} strokeWidth={1.2} />
            {b.obs.map((d, i) => (
              <circle key={i} cx={x(d[0])} cy={yTop(d[1])} r={3.1} fill="none" stroke={COL[b.key]} strokeWidth={1.1} />
            ))}
            <text x={x(b.lab[0])} y={yTop(b.lab[1]) + 3} textAnchor="middle" fontFamily="Liberation Mono, DejaVu Sans Mono, monospace" fontSize={9} fill={COL[b.key]}>{bandLabels[b.key as keyof typeof bandLabels]}</text>
          </g>
        ))}
      </g>
      {/* legend */}
      <g>
        <rect x={left + 15} y={229} width={103} height={33} rx={2} fill="#fff" fillOpacity={0.9} stroke="#c8c8c8" strokeWidth={0.8} />
        <line x1={left + 17} x2={left + 38} y1={238} y2={238} stroke="#000" strokeWidth={1} strokeDasharray="3.5,2" />
        <text x={left + 41} y={242} fontSize={FS_LEG} fill="#000">fit without CSM</text>
        <line x1={left + 17} x2={left + 38} y1={250.5} y2={250.5} stroke="#000" strokeWidth={1.3} />
        <text x={left + 41} y={254.5} fontSize={FS_LEG} fill="#000">fit with CSM</text>
      </g>
      {/* title */}
      <rect x={right - 2 - titleW} y={2.5} width={titleW} height={18} rx={3} fill="#fff" stroke="#555" strokeWidth={0.9} />
      <text x={right - 2 - titleW / 2} y={15.5} textAnchor="middle" fontSize={FS} fill="#000">{p.name}</text>
      {/* frame + ticks top */}
      <rect x={left} y={t0} width={PANEL_W} height={t1 - t0} fill="none" stroke="#333" strokeWidth={1.5} />
      {xMaj.map(v => (
        <g key={'xm' + v}>
          <line x1={x(v)} x2={x(v)} y1={t1} y2={t1 - 4} stroke={tk} />
          <line x1={x(v)} x2={x(v)} y1={t0} y2={t0 + 4} stroke={tk} />
          <line x1={x(v)} x2={x(v)} y1={r1} y2={r1 - 4} stroke={tk} />
          <line x1={x(v)} x2={x(v)} y1={r0} y2={r0 + 4} stroke={tk} />
        </g>
      ))}
      {xMin.map(v => (
        <g key={'xn' + v}>
          <line x1={x(v)} x2={x(v)} y1={t1} y2={t1 - 2} stroke={tk} />
          <line x1={x(v)} x2={x(v)} y1={t0} y2={t0 + 2} stroke={tk} />
          <line x1={x(v)} x2={x(v)} y1={r1} y2={r1 - 2} stroke={tk} />
          <line x1={x(v)} x2={x(v)} y1={r0} y2={r0 + 2} stroke={tk} />
        </g>
      ))}
      {yMaj.map(v => (
        <g key={'ym' + v}>
          <line x1={left} x2={left + 4} y1={yTop(v)} y2={yTop(v)} stroke={tk} />
          <line x1={right} x2={right - 4} y1={yTop(v)} y2={yTop(v)} stroke={tk} />
        </g>
      ))}
      {yMin.map(v => (
        <g key={'yn' + v}>
          <line x1={left} x2={left + 2} y1={yTop(v)} y2={yTop(v)} stroke={tk} />
          <line x1={right} x2={right - 2} y1={yTop(v)} y2={yTop(v)} stroke={tk} />
        </g>
      ))}
      {/* residual panel */}
      <rect x={left} y={r0} width={PANEL_W} height={r1 - r0} fill="#fff" />
      <line x1={left} x2={right} y1={yRes(0)} y2={yRes(0)} stroke="#888" strokeWidth={1} />
      <g clipPath={`url(#cr${idx})`}>
        {p.res.map(s => (
          <g key={s.key}>
            {s.d.map((d, i) => {
              const cx = x(d[0]);
              const ya = yRes(d[1] + d[2]);
              const yb = yRes(d[1] - d[2]);
              return (
                <g key={i}>
                  <line x1={cx} x2={cx} y1={ya} y2={yb} stroke={COL[s.key]} strokeWidth={0.8} />
                  <line x1={cx - 1.3} x2={cx + 1.3} y1={ya} y2={ya} stroke={COL[s.key]} strokeWidth={0.8} />
                  <line x1={cx - 1.3} x2={cx + 1.3} y1={yb} y2={yb} stroke={COL[s.key]} strokeWidth={0.8} />
                  <rect x={cx - 1.4} y={yRes(d[1]) - 1.4} width={2.8} height={2.8} fill={COL[s.key]} />
                </g>
              );
            })}
          </g>
        ))}
      </g>
      <rect x={left} y={r0} width={PANEL_W} height={r1 - r0} fill="none" stroke="#333" strokeWidth={1.5} />
      {rMaj.map(v => (
        <g key={'rm' + v}>
          <line x1={left} x2={left + 4} y1={yRes(v)} y2={yRes(v)} stroke={tk} />
          <line x1={right} x2={right - 4} y1={yRes(v)} y2={yRes(v)} stroke={tk} />
        </g>
      ))}
      {rMin.map(v => (
        <g key={'rn' + v}>
          <line x1={left} x2={left + 2} y1={yRes(v)} y2={yRes(v)} stroke={tk} />
          <line x1={right} x2={right - 2} y1={yRes(v)} y2={yRes(v)} stroke={tk} />
        </g>
      ))}
      {timeTicks.map(v => (
        <text key={'tl' + v} x={x(v)} y={339.5} textAnchor="middle" fontSize={FS_X} fill="#000">{v}</text>
      ))}
      <text x={(left + right) / 2} y={353.5} textAnchor="middle" fontSize={12} fill="#000">Time [days]</text>
      {idx === 0 && (
        <g>
          {magTicks.map(v => (
            <text key={'mt' + v} x={37} y={yTop(v) + 4.3} textAnchor="end" fontSize={FS} fill="#000">{fmtMinus(v, 0)}</text>
          ))}
          {resTicks.map(v => (
            <text key={'rt' + v} x={37} y={yRes(v) + 4.3} textAnchor="end" fontSize={FS} fill="#000">{fmtMinus(v, 1)}</text>
          ))}
          <text transform={`translate(12,${(t0 + t1) / 2}) rotate(-90)`} textAnchor="middle" fontSize={FS} fill="#000">Absolute magnitude</text>
          <text transform={`translate(12,${(r0 + r1) / 2}) rotate(-90)`} textAnchor="middle" fontSize={FS} fill="#000">Residuals</text>
        </g>
      )}
    </g>
  );
}

export default function App() {
  return (
    <svg width={747} height={355} style={{ position: 'absolute', left: 0, top: 0, background: '#fff' }}
      fontFamily="Liberation Serif, Times New Roman, serif">
      <rect x={0} y={0} width={747} height={355} fill="#fff" />
      {panels.map((p, i) => <PanelView key={p.name} p={p} idx={i} />)}
    </svg>
  );
}
